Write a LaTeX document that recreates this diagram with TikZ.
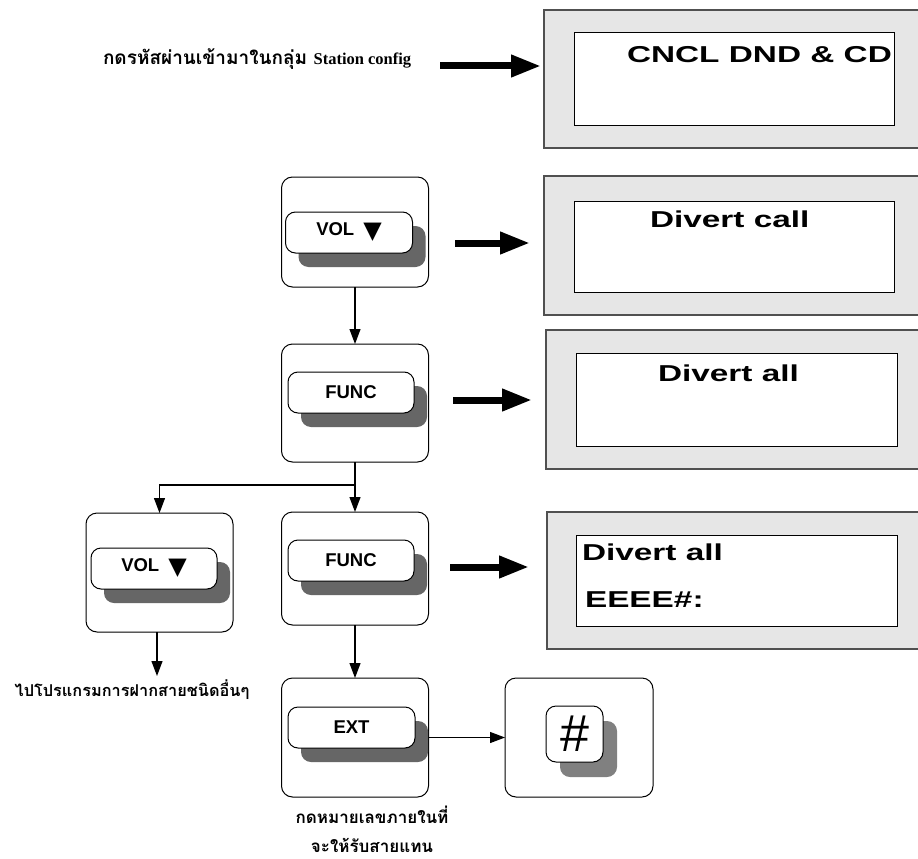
\documentclass[tikz,border=0pt]{standalone}
\usepackage{fontspec}
\setmainfont{Liberation Serif}
\newfontfamily\thaifont[Script=Thai]{Loma}
\newfontfamily\keyfont{Liberation Sans}
\newfontfamily\dispfont[FakeStretch=1.45,UprightFont={* Bold}]{Liberation Sans}
\newfontfamily\symfont{DejaVu Sans}
\usetikzlibrary{arrows.meta}
\definecolor{dispgray}{RGB}{230,230,230}
\definecolor{dispedge}{RGB}{80,80,80}
\definecolor{shadowgray}{RGB}{102,102,102}
\definecolor{shadowlight}{RGB}{128,128,128}
\begin{document}
\begin{tikzpicture}[x=1pt,y=-1pt,
 every node/.style={inner sep=0pt, outer sep=0pt},
 dispouter/.style={draw=dispedge, fill=dispgray, line width=1.2pt, rectangle},
 dispinner/.style={draw=black, fill=white, line width=1pt, rectangle},
 disptext/.style={anchor=base west, font=\dispfont\fontsize{23}{27}\selectfont},
 keybox/.style={draw=black, fill=white, rounded corners=11pt, line width=1pt, rectangle},
 keycap/.style={draw=black, fill=white, rounded corners=10pt, line width=1pt, rectangle,
   font=\keyfont\bfseries\fontsize{18.5}{21}\selectfont},
 keyshadow/.style={fill=shadowgray, rounded corners=10pt, rectangle},
 thinarrow/.style={line width=1.2pt, -{Triangle[length=15pt,width=11pt]}},
 thickarrow/.style={line width=7pt, -{Triangle[length=30pt,width=21pt]}},
 thaitext/.style={font=\thaifont\bfseries\fontsize{19}{24}\selectfont}
]
\useasboundingbox (0,0) rectangle (918,859);

% ---- displays ----
\node[dispouter, minimum width=386pt, minimum height=138pt] (d1) at (737,79) {};
\node[dispinner, minimum width=320pt, minimum height=92pt] (d1i) at (734,79) {};
\node[disptext] (t1) at (627,63) {CNCL DND \& CD};

\node[dispouter, minimum width=386pt, minimum height=139pt] (d2) at (737,245.5) {};
\node[dispinner, minimum width=320pt, minimum height=91pt] (d2i) at (734,246.5) {};
\node[disptext] (t2) at (650,227) {Divert call};

\node[dispouter, minimum width=384pt, minimum height=139pt] (d3) at (738,399.5) {};
\node[dispinner, minimum width=321pt, minimum height=93pt] (d3i) at (736.5,399.5) {};
\node[disptext] (t3) at (658,381) {Divert all};

\node[dispouter, minimum width=383pt, minimum height=137pt] (d4) at (738.5,580.5) {};
\node[dispinner, minimum width=321pt, minimum height=91pt] (d4i) at (736.5,580.5) {};
\node[disptext] (t4) at (582,560) {Divert all};
\node[disptext] (t5) at (585,607) {EEEE\#:};

% ---- keys ----
\node[keybox, minimum width=147pt, minimum height=110pt] (vol1) at (355,232) {};
\node[keyshadow, minimum width=127pt, minimum height=41pt] (vol1s) at (362,246.5) {};
\node[keycap, minimum width=127pt, minimum height=41pt] (vol1k) at (349,232.5)
  {VOL\hspace{9pt}\raisebox{-3pt}{\symfont\fontsize{24}{24}\selectfont ▼}};

\node[keybox, minimum width=147pt, minimum height=118pt] (func1) at (355,403) {};
\node[keyshadow, minimum width=126pt, minimum height=41pt] (func1s) at (364,406.5) {};
\node[keycap, minimum width=126pt, minimum height=41pt] (func1k) at (351,392.5) {FUNC};

\node[keybox, minimum width=147pt, minimum height=119pt] (vol2) at (159.5,572.5) {};
\node[keyshadow, minimum width=126pt, minimum height=41pt] (vol2s) at (167,582.5) {};
\node[keycap, minimum width=126pt, minimum height=41pt] (vol2k) at (154,568.5)
  {VOL\hspace{9pt}\raisebox{-3pt}{\symfont\fontsize{24}{24}\selectfont ▼}};

\node[keybox, minimum width=147pt, minimum height=113pt] (func2) at (355,568.5) {};
\node[keyshadow, minimum width=126pt, minimum height=41pt] (func2s) at (364,574.5) {};
\node[keycap, minimum width=126pt, minimum height=41pt] (func2k) at (351,560.5) {FUNC};

\node[keybox, minimum width=147pt, minimum height=119pt] (ext) at (355,737.5) {};
\node[keyshadow, minimum width=127pt, minimum height=41pt] (exts) at (364.5,741.5) {};
\node[keycap, minimum width=127pt, minimum height=41pt] (extk) at (351.5,727.5) {EXT};

\node[keybox, minimum width=148pt, minimum height=119pt] (hash) at (579,737.5) {};
\node[keyshadow, fill=shadowlight, minimum width=57pt, minimum height=56pt] (hashs) at (588.5,749) {};
\node[keycap, minimum width=57pt, minimum height=56pt, font=\keyfont\fontsize{52}{52}\selectfont] (hashk) at (574.5,734) {\#};

% ---- texts ----
\node[thaitext, anchor=base west] (toptext) at (103,65)
  {กดรหัสผ่านเข้ามาในกลุ่ม {\rmfamily\bfseries\fontsize{16.5}{20}\selectfont Station config}};
\node[thaitext, anchor=base, font=\thaifont\bfseries\fontsize{16.3}{20}\selectfont] (lefttext) at (132,696) {ไปโปรแกรมการฝากสายชนิดอื่นๆ};
\node[thaitext, anchor=base, font=\thaifont\bfseries\fontsize{17}{20}\selectfont] (bot1) at (372,823) {กดหมายเลขภายในที่};
\node[thaitext, anchor=base, font=\thaifont\bfseries\fontsize{17}{20}\selectfont] (bot2) at (372,852) {จะให้รับสายแทน};

% ---- thin connectors ----
\coordinate (j) at (355,485);
\coordinate (lt) at (157,676);
\draw[thinarrow] (vol1.south) -- (vol1.south |- func1.north);
\draw[thinarrow] (func1.south) -- (func1.south |- func2.north);
\draw[thinarrow] (j) -| (vol2.north);
\draw[thinarrow] (func2.south) -- (func2.south |- ext.north);
\draw[thinarrow] (vol2.south -| lt) -- (lt);
\draw[thinarrow] (ext.east) -- (hash.west);

% ---- thick arrows ----
\coordinate (a1s) at (440,66);
\coordinate (a2s) at (455,243);
\coordinate (a3s) at (453,400);
\coordinate (a4s) at (450,567);
\draw[thickarrow] (a1s) -- ([xshift=-3pt]d1.west |- a1s);
\draw[thickarrow] (a2s) -- ([xshift=-14pt]d2.west |- a2s);
\draw[thickarrow] (a3s) -- ([xshift=-14pt]d3.west |- a3s);
\draw[thickarrow] (a4s) -- ([xshift=-18pt]d4.west |- a4s);
\end{tikzpicture}
\end{document}
